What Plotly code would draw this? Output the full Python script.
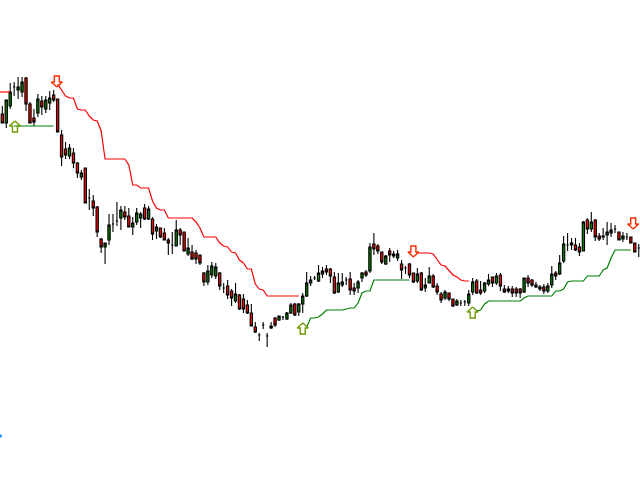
import plotly.graph_objects as go

# Values, as pixel rows of the original chart
opens = [114,123,106,87,90,92,78,104,118,113,
         101,109,103,95,99,135,149,156,153,163,
         177,168,198,201,207,239,247,240,224,221,
         218,212,216,227,222,218,208,219,219,231,
         228,233,240,245,246,230,232,254,252,253,
         255,273,282,275,276,273,288,286,291,301,
         295,299,305,313,327,335,325,336,328,318,
         320,317,319,313,304,312,304,296,283,278,
         281,274,269,269,277,292,285,280,279,288,
         288,278,272,271,244,246,252,264,251,256,
         258,264,268,264,273,281,273,288,283,276,
         286,294,298,293,299,305,303,302,303,292,
         281,290,291,284,277,283,275,289,291,289,
         289,289,292,278,280,285,289,287,291,285,
         273,274,261,245,245,245,247,251,220,229,
         220,236,237,235,233,229,232,239,237,237,
         243,248]
closes = [123,100,92,87,87,82,104,123,122,99,
          107,100,98,100,132,157,155,148,163,173,
          173,203,198,208,232,247,243,225,224,221,
          210,217,227,223,213,214,219,209,234,227,
          237,240,243,245,230,235,251,248,259,259,
          263,282,271,266,267,286,288,295,298,294,
          309,309,313,326,332,335,325,336,326,325,
          316,317,313,305,315,304,296,283,280,278,
          273,271,272,276,293,283,282,280,290,291,
          282,273,275,247,249,251,262,256,255,254,
          254,270,268,275,282,274,290,285,276,287,
          292,300,292,299,306,301,303,302,294,282,
          293,293,283,280,283,276,286,292,289,293,
          293,293,278,283,285,287,287,291,286,274,
          276,263,244,245,243,250,252,222,229,222,
          237,239,236,232,230,229,240,236,237,243,
          252,248]
highs = [106,100,83,82,77,77,77,102,109,94,
         96,96,91,90,99,130,142,144,148,162,
         170,168,189,195,206,238,243,214,214,202,
         206,206,208,217,208,212,204,206,217,224,
         228,228,238,232,220,228,232,238,245,250,
         255,272,265,262,263,272,283,280,289,283,
         294,294,300,304,322,333,322,333,322,317,
         316,316,312,303,303,303,293,272,276,276,
         265,267,265,268,272,273,273,277,272,283,
         280,272,270,243,233,244,252,255,248,251,
         250,260,266,263,273,268,272,278,267,274,
         283,292,290,293,299,299,300,300,290,278,
         279,281,282,274,277,273,273,285,286,286,
         287,288,278,275,279,282,285,284,283,266,
         271,255,236,233,238,238,243,221,218,212,
         219,233,228,222,223,225,232,232,233,237,
         243,244]
lows = [123,128,109,96,99,97,111,123,126,117,
        115,113,110,102,132,166,159,159,168,178,
        180,203,210,216,237,253,264,245,232,226,
        230,220,227,235,225,228,220,220,240,239,
        238,240,255,254,246,245,251,256,260,264,
        265,286,285,278,279,290,293,299,306,303,
        310,313,314,326,333,341,329,347,329,327,
        321,320,320,314,316,316,313,297,286,280,
        282,278,275,283,294,293,287,285,295,295,
        293,282,277,273,255,254,264,265,262,258,
        261,279,274,278,283,283,291,292,283,288,
        295,303,300,301,307,306,306,306,306,295,
        294,295,293,286,287,285,291,293,293,297,
        297,298,293,287,287,288,291,294,293,288,
        280,275,263,251,250,251,256,251,234,232,
        241,241,240,245,237,233,240,242,240,243,
        252,257]

# Stop lines: (first bar, values per bar)
red_a_start, red_a = -1, [92,92,92,92]
red_b_start, red_b = 14, [84,90,96,98,98,109,110,110,116,120,121,131,159,159,159,159,159,159,165,185,
                          185,188,188,188,201,208,210,210,218,218,218,218,218,218,218,222,228,237,237,237,
                          237,243,246,247,252,253,260,263,269,269,284,289,290,296,296,296,296,296,296,296,296,296]
red_c_start, red_c = 105, [253,253,253,253,254,259,265,266,271,275,277,280,281,281]
green_a_start, green_a = 3, [126]*11
green_b_start, green_b = 77, [327,318,318,317,314,310,310,310,310,310,309,308,308,303,293,291,291,280,
                              280,280,280,280,280,280,280,280,280]
green_c_start, green_c = 120, [311,310,304,301,301,301,301,301,301,301,301,301,298,296,296,296,296,296,296,296,
                               291,291,289,282,281,281,281,281,276,276,276,276,270,268,258,250,250,250,250,250]

up_arrow_bars = [3.2, 76, 119]
up_arrow_rows = [126.5, 328.5, 312.5]
down_arrow_bars = [13.8, 104, 159.6]
down_arrow_rows = [81.5, 251.5, 223.5]

# Hollow block arrow glyph
BAR_PX = 3.953
glyph_dx = [0, 5.5, 2.5, 2.5, -2.5, -2.5, -5.5, 0]
glyph_dy = [-5.5, -0.5, -0.5, 5.5, 5.5, -0.5, -0.5, -5.5]


def price(rows):
    return [480 - r for r in rows]


def arrows(bars, rows, flip):
    xs, ys = [], []
    for b, r in zip(bars, rows):
        xs += [b + d / BAR_PX for d in glyph_dx] + [None]
        ys += [480 - (r + flip * d) for d in glyph_dy] + [None]
    return xs, ys


fig = go.Figure()
fig.add_trace(go.Candlestick(
    x=list(range(len(opens))),
    open=price(opens), high=price(highs), low=price(lows), close=price(closes),
    increasing=dict(line=dict(color="#000000", width=1.1), fillcolor="#008000"),
    decreasing=dict(line=dict(color="#000000", width=1.1), fillcolor="#ff0000"),
    whiskerwidth=0, showlegend=False, hoverinfo="skip",
))
for start, vals, col in [(red_a_start, red_a, "#ff0000"), (red_b_start, red_b, "#ff0000"), (red_c_start, red_c, "#ff0000"),
                         (green_a_start, green_a, "#008000"), (green_b_start, green_b, "#008000"), (green_c_start, green_c, "#008000")]:
    fig.add_trace(go.Scatter(x=list(range(start, start + len(vals))), y=price(vals), mode="lines",
                             line=dict(color=col, width=1.2), showlegend=False, hoverinfo="skip"))
ux, uy = arrows(up_arrow_bars, up_arrow_rows, 1)
fig.add_trace(go.Scatter(x=ux, y=uy, mode="lines", line=dict(color="#6f9a00", width=1.4),
                         showlegend=False, hoverinfo="skip"))
dx, dy = arrows(down_arrow_bars, down_arrow_rows, -1)
fig.add_trace(go.Scatter(x=dx, y=dy, mode="lines", line=dict(color="#ff2a00", width=1.4),
                         showlegend=False, hoverinfo="skip"))
fig.add_trace(go.Scatter(x=[-0.5], y=price([436]), mode="markers",
                         marker=dict(symbol="square", size=3, color="#1e90ff"),
                         showlegend=False, hoverinfo="skip"))

fig.update_layout(
    width=640, height=480, margin=dict(l=0, r=0, t=0, b=0), autosize=False,
    paper_bgcolor="white", plot_bgcolor="white", showlegend=False, boxgap=0.18,
    xaxis=dict(range=[-0.582, 161.32], visible=False, rangeslider=dict(visible=False), fixedrange=True),
    yaxis=dict(range=[0, 480], visible=False, fixedrange=True),
)
fig.write_html("out.html", config=dict(displayModeBar=False),
               post_script="document.body.style.margin='0';document.body.style.overflow='hidden';")
